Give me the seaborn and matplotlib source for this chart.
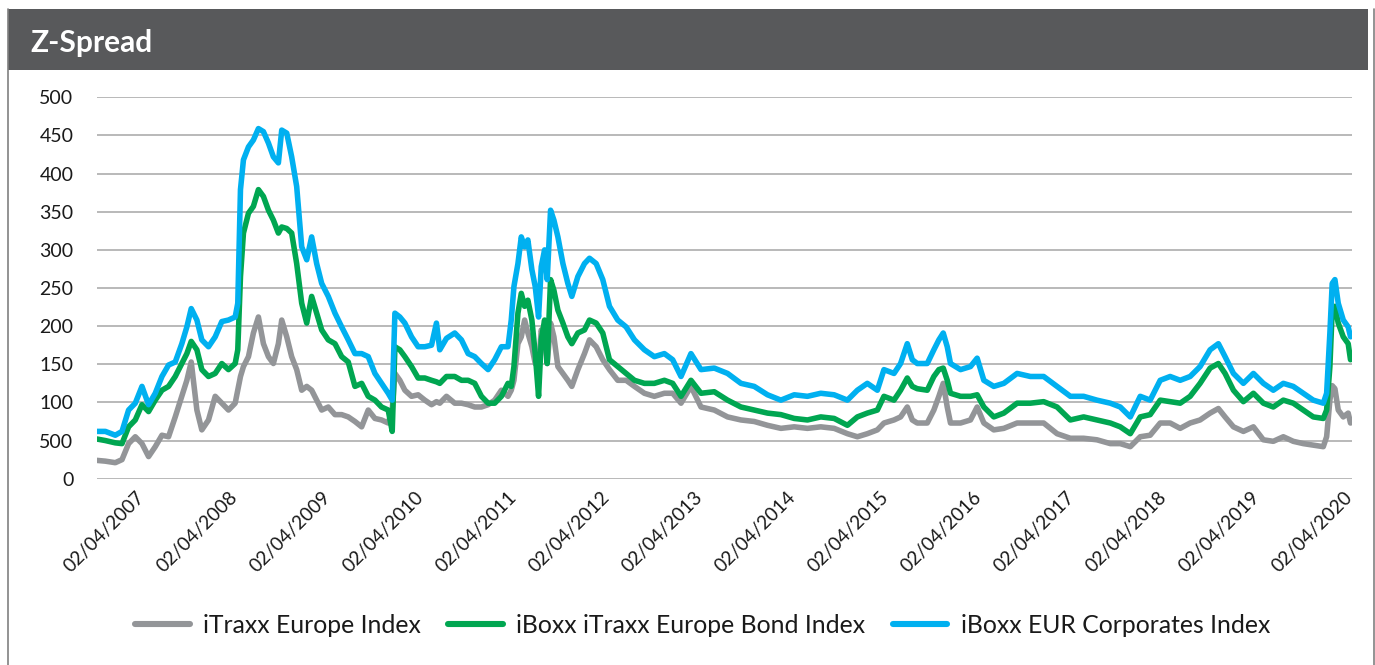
import matplotlib
matplotlib.use("Agg")
import matplotlib.pyplot as plt
import matplotlib.transforms as mtransforms
from matplotlib.patches import Rectangle
from matplotlib.lines import Line2D
import pandas as pd
import seaborn as sns

# ---- data (decimal years, spread values) ----
years = [
    2006.874, 2006.964, 2007.071, 2007.143, 2007.214, 2007.286, 2007.358, 2007.429, 2007.501, 2007.573,
    2007.644, 2007.716, 2007.787, 2007.841, 2007.888, 2007.949, 2008.002, 2008.074, 2008.146, 2008.217,
    2008.289, 2008.361, 2008.389, 2008.418, 2008.450, 2008.504, 2008.557, 2008.611, 2008.665, 2008.719,
    2008.772, 2008.826, 2008.862, 2008.916, 2008.969, 2009.023, 2009.077, 2009.131, 2009.184, 2009.238,
    2009.292, 2009.363, 2009.435, 2009.507, 2009.578, 2009.650, 2009.722, 2009.793, 2009.865, 2009.936,
    2010.008, 2010.051, 2010.080, 2010.133, 2010.187, 2010.259, 2010.330, 2010.402, 2010.474, 2010.527,
    2010.563, 2010.635, 2010.724, 2010.796, 2010.868, 2010.939, 2011.011, 2011.083, 2011.154, 2011.226,
    2011.297, 2011.332, 2011.361, 2011.404, 2011.440, 2011.476, 2011.511, 2011.554, 2011.590, 2011.626,
    2011.655, 2011.691, 2011.719, 2011.755, 2011.791, 2011.834, 2011.888, 2011.941, 2011.984, 2012.049,
    2012.120, 2012.174, 2012.246, 2012.317, 2012.389, 2012.478, 2012.568, 2012.658, 2012.765, 2012.872,
    2012.980, 2013.069, 2013.159, 2013.266, 2013.374, 2013.517, 2013.660, 2013.804, 2013.947, 2014.090,
    2014.234, 2014.377, 2014.520, 2014.663, 2014.807, 2014.950,
    2015.057, 2015.164, 2015.272, 2015.343, 2015.451, 2015.522, 2015.594, 2015.648, 2015.701, 2015.809,
    2015.880, 2015.934, 2015.981, 2016.024, 2016.059, 2016.167, 2016.274, 2016.346, 2016.418, 2016.525,
    2016.633, 2016.776, 2016.919, 2017.062, 2017.206, 2017.349, 2017.492, 2017.635, 2017.779, 2017.886,
    2017.994,
    2018.101, 2018.208, 2018.316, 2018.423, 2018.531, 2018.638, 2018.745, 2018.853, 2018.942, 2019.014,
    2019.104, 2019.211, 2019.319, 2019.426, 2019.533, 2019.641, 2019.748, 2019.856, 2019.963, 2020.071,
    2020.107, 2020.142, 2020.167, 2020.196, 2020.232, 2020.286, 2020.339, 2020.364,
]

itraxx_europe = [
    24, 23, 21, 25, 46, 55, 46, 29, 42, 57,
    55, 81, 108, 129, 153, 90, 64, 77, 108, 99,
    90, 99, 116, 134, 147, 160, 191, 212, 177, 160,
    151, 177, 208, 186, 160, 143, 116, 121, 116, 103,
    90, 94, 84, 84, 81, 75, 68, 90, 79, 77,
    73, 90, 138, 129, 116, 108, 110, 103, 97, 101,
    99, 108, 99, 99, 97, 94, 94, 97, 103, 116,
    108, 116, 129, 177, 186, 208, 191, 173, 151, 147,
    195, 182, 151, 204, 186, 147, 138, 129, 121, 143,
    164, 182, 173, 156, 143, 129, 129, 121, 112, 108,
    112, 112, 99, 121, 94, 90, 81, 77, 75, 70,
    66, 68, 66, 68, 66, 59,
    55, 59, 64, 73, 77, 81, 94, 77, 73, 73,
    90, 108, 125, 94, 73, 73, 77, 94, 73, 64,
    66, 73, 73, 73, 59, 53, 53, 51, 46, 46,
    42,
    55, 57, 73, 73, 66, 73, 77, 86, 92, 81,
    68, 62, 68, 51, 49, 55, 49, 46, 44, 42,
    55, 103, 122, 118, 90, 81, 86, 73,
]

iboxx_itraxx_bond = [
    52, 50, 47, 46, 68, 77, 97, 88, 103, 116,
    121, 134, 151, 164, 180, 169, 143, 134, 138, 151,
    143, 151, 169, 265, 322, 348, 357, 379, 370, 352,
    339, 322, 330, 328, 322, 282, 230, 204, 239, 217,
    195, 182, 177, 160, 153, 121, 125, 108, 103, 94,
    90, 62, 173, 169, 160, 147, 132, 132, 129, 127,
    125, 134, 134, 129, 129, 125, 108, 99, 99, 108,
    125, 121, 147, 217, 243, 226, 234, 208, 164, 108,
    182, 208, 151, 261, 247, 221, 204, 186, 177, 191,
    195, 208, 204, 191, 156, 147, 138, 129, 125, 125,
    129, 125, 108, 129, 112, 114, 103, 94, 90, 86,
    84, 79, 77, 81, 79, 70,
    81, 86, 90, 108, 103, 116, 132, 121, 118, 116,
    134, 143, 145, 129, 112, 108, 108, 110, 94, 81,
    86, 99, 99, 101, 94, 77, 81, 77, 73, 68,
    59,
    81, 84, 103, 101, 99, 108, 125, 145, 151, 138,
    116, 101, 112, 99, 94, 103, 99, 90, 81, 79,
    90, 147, 221, 226, 204, 186, 177, 156,
]

iboxx_eur_corporates = [
    62, 62, 57, 62, 90, 99, 121, 97, 112, 134,
    149, 153, 177, 199, 223, 208, 182, 173, 186, 206,
    208, 212, 230, 379, 418, 435, 444, 459, 455, 440,
    422, 414, 457, 453, 422, 383, 304, 287, 317, 282,
    256, 239, 217, 199, 182, 164, 164, 160, 138, 125,
    112, 103, 217, 212, 204, 186, 173, 173, 175, 204,
    169, 184, 191, 182, 164, 160, 151, 143, 156, 173,
    173, 208, 252, 282, 317, 304, 313, 274, 252, 212,
    278, 300, 261, 352, 339, 317, 282, 256, 239, 265,
    282, 289, 282, 261, 226, 208, 199, 182, 169, 160,
    164, 156, 134, 164, 143, 145, 138, 125, 121, 110,
    103, 110, 108, 112, 110, 103,
    116, 125, 116, 143, 138, 151, 177, 156, 151, 151,
    169, 182, 191, 173, 151, 143, 147, 158, 129, 121,
    125, 138, 134, 134, 121, 108, 108, 103, 99, 94,
    81,
    108, 103, 129, 134, 129, 134, 147, 169, 177, 160,
    138, 125, 138, 125, 116, 125, 121, 112, 103, 99,
    112, 191, 256, 261, 230, 208, 199, 186,
]

series_names = ["iTraxx Europe Index", "iBoxx iTraxx Europe Bond Index", "iBoxx EUR Corporates Index"]
series_colors = ["#939598", "#00a651", "#00b0f0"]

x_tick_years = [2007.25 + i for i in range(14)]
x_tick_labels = ["02/04/%d" % (2007 + i) for i in range(14)]
y_tick_values = [0, 50, 100, 150, 200, 250, 300, 350, 400, 450, 500]
y_tick_labels = ["0", "500", "100", "150", "200", "250", "300", "350", "400", "450", "500"]

title_text = "Z-Spread"

# ---- build frame ----
df = pd.DataFrame({
    "year": years,
    series_names[0]: itraxx_europe,
    series_names[1]: iboxx_itraxx_bond,
    series_names[2]: iboxx_eur_corporates,
}).melt(id_vars="year", var_name="series", value_name="spread")

sns.set_theme(style="white")
plt.rcParams["font.family"] = ["Lato", "DejaVu Sans"]

W, H = 1375, 665
fig = plt.figure(figsize=(W / 100, H / 100), dpi=100)
fig.patch.set_facecolor("white")

ax_left, ax_right, ax_top, ax_bottom = 97, 1352, 97.3, 478.7
ax = fig.add_axes([ax_left / W, (H - ax_bottom) / H, (ax_right - ax_left) / W, (ax_bottom - ax_top) / H])
ax.set_facecolor("white")

sns.lineplot(data=df, x="year", y="spread", hue="series", hue_order=series_names,
             palette=series_colors, linewidth=4.0, estimator=None, legend=False, ax=ax)
for ln in ax.lines:
    ln.set_solid_joinstyle("round")
    ln.set_solid_capstyle("round")

ax.set_xlim(2006.874, 2020.38)
ax.set_ylim(0, 500)
ax.set_yticks(y_tick_values, y_tick_labels)
ax.set_xticks(x_tick_years, x_tick_labels)
ax.yaxis.grid(True, color="#a6a6a6", linewidth=1.1)
ax.xaxis.grid(False)
ax.set_axisbelow(True)
for s in ax.spines.values():
    s.set_visible(False)
ax.set_xlabel("")
ax.set_ylabel("")

ax.tick_params(axis="y", length=0, pad=17, labelsize=14, labelcolor="#1a1a1a")
ax.tick_params(axis="x", length=0, pad=7, labelsize=13.8, labelcolor="#1a1a1a")
offset = mtransforms.ScaledTranslation(4 / 100, 0, fig.dpi_scale_trans)
for lab in ax.get_xticklabels():
    lab.set_rotation(45)
    lab.set_ha("right")
    lab.set_va("top")
    lab.set_rotation_mode("anchor")
    lab.set_transform(lab.get_transform() + offset)

# legend
handles = [Line2D([0], [0], color=c, linewidth=4.4, solid_capstyle="round") for c in series_colors]
fig.legend(handles, series_names, loc="center", bbox_to_anchor=(0.511, 0.06), ncol=3, frameon=False,
           fontsize=17.8, handlelength=2.2, handletextpad=0.55, columnspacing=1.1,
           labelcolor="#1a1a1a")

# header band and title
fig.add_artist(Rectangle((8 / W, (H - 70) / H), 1360 / W, 61 / H, transform=fig.transFigure,
                         facecolor="#58595b", edgecolor="none", zorder=0))
fig.text(30 / W, (H - 51.7) / H, title_text, color="white", fontsize=21.5, fontweight="bold",
         ha="left", va="baseline")

# outer frame lines
for xpix in (7.5, 1373.5):
    fig.add_artist(Line2D([xpix / W, xpix / W], [0, (H - 9) / H], transform=fig.transFigure,
                          color="#808080", linewidth=1.2))

fig.savefig("out.png", dpi=100)
